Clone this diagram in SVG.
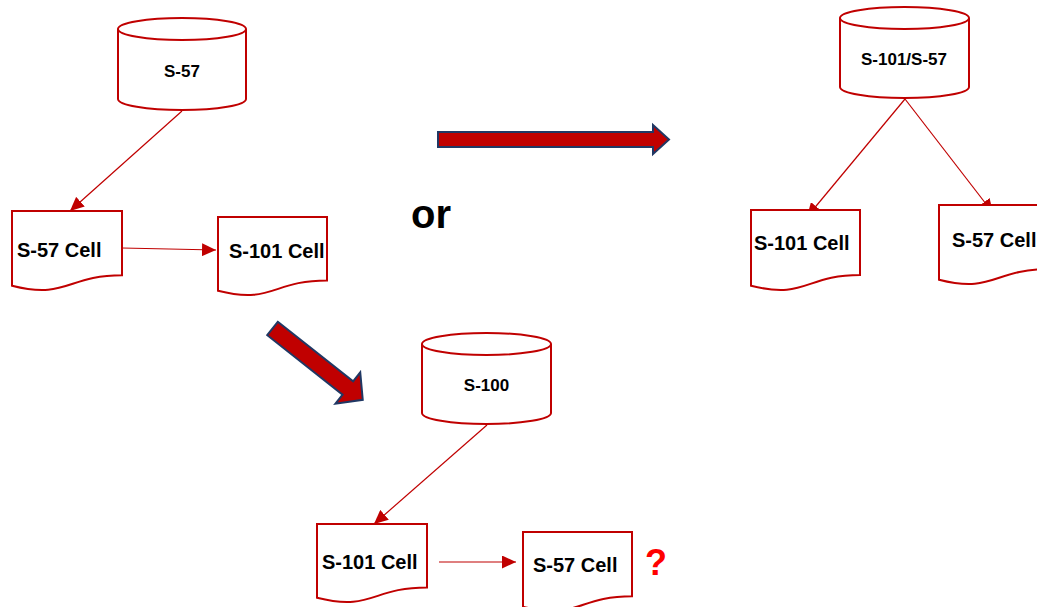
<svg xmlns="http://www.w3.org/2000/svg" width="1037" height="607" viewBox="0 0 1037 607">
<defs>
<style>
.shape{fill:#fff;stroke:#C00000;stroke-width:2}
.conn{fill:none;stroke:#C00000;stroke-width:1.2}
.big{fill:#C00000;stroke:#203864;stroke-width:2;stroke-linejoin:miter}
.lbl{font-family:"Liberation Sans",Arial,sans-serif;font-weight:bold;fill:#000}
.cyl{font-size:17px;text-anchor:middle}
.cell{font-size:20px}
</style>
<marker id="ah" markerUnits="userSpaceOnUse" markerWidth="14" markerHeight="13" refX="14" refY="6.5" orient="auto">
<path d="M0,0 L14,6.5 L0,13 Z" fill="#C00000"/>
</marker>
</defs>
<rect width="1037" height="607" fill="#fff"/>

<g id="connectors">
<line class="conn" x1="182" y1="111" x2="70" y2="211" marker-end="url(#ah)"/>
<line class="conn" x1="122" y1="248" x2="216" y2="250" marker-end="url(#ah)"/>
<line class="conn" x1="905" y1="99" x2="807" y2="217" marker-end="url(#ah)"/>
<line class="conn" x1="905" y1="99" x2="993" y2="213" marker-end="url(#ah)"/>
<line class="conn" x1="487" y1="425" x2="374" y2="524" marker-end="url(#ah)"/>
<line class="conn" x1="439" y1="562" x2="516" y2="562" marker-end="url(#ah)"/>
</g>

<g id="big-arrow-right">
<path class="big" d="M438,132 H653 V125 L669,139.5 L653,154 V147 H438 Z"/>
</g>
<g id="big-arrow-diagonal">
<path class="big" transform="translate(272.5,328.5) rotate(38.3)" d="M0,-8.5 H96 V-20 L115,0 L96,20 V8.5 H0 Z"/>
</g>

<g id="cyl-s57">
<path class="shape" d="M118,29 A64,11 0 0 1 246,29 V99 A64,11 0 0 1 118,99 Z"/>
<path class="shape" fill="none" d="M118,29 A64,11 0 0 0 246,29"/>
<text class="lbl cyl" x="182" y="77">S-57</text>
</g>

<g id="doc-s57-cell">
<path class="shape" d="M12,211 H122 V275.2 C67,275.2 67,299.6 12,285.7 Z"/>
<text class="lbl cell" x="17" y="257">S-57 Cell</text>
</g>

<g id="doc-s101-cell">
<path class="shape" d="M218,217 H327 V280.4 C272.5,280.4 272.5,304.5 218,290.8 Z"/>
<text class="lbl cell" x="229" y="258">S-101 Cell</text>
</g>

<g id="or-label">
<text class="lbl" x="411" y="228" font-size="40">or</text>
</g>

<g id="cyl-s101-s57">
<path class="shape" d="M840,18 A64.5,11 0 0 1 969,18 V87 A64.5,11 0 0 1 840,87 Z"/>
<path class="shape" fill="none" d="M840,18 A64.5,11 0 0 0 969,18"/>
<text class="lbl cyl" x="904" y="65">S-101/S-57</text>
</g>

<g id="doc-right-s101">
<path class="shape" d="M751,210 H860 V275 C805.5,275 805.5,299.7 751,285.7 Z"/>
<text class="lbl cell" x="754" y="250">S-101 Cell</text>
</g>

<g id="doc-right-s57">
<path class="shape" d="M939,205 H1048 V269.2 C993.5,269.2 993.5,293.6 939,279.7 Z"/>
<text class="lbl cell" x="952" y="247">S-57 Cell</text>
</g>

<g id="cyl-s100">
<path class="shape" d="M422,344 A64.5,11 0 0 1 551,344 V413 A64.5,11 0 0 1 422,413 Z"/>
<path class="shape" fill="none" d="M422,344 A64.5,11 0 0 0 551,344"/>
<text class="lbl cyl" x="486.5" y="391">S-100</text>
</g>

<g id="doc-bottom-s101">
<path class="shape" d="M317,524 H427 V587.4 C372,587.4 372,611.5 317,597.8 Z"/>
<text class="lbl cell" x="322" y="569">S-101 Cell</text>
</g>

<g id="doc-bottom-s57">
<path class="shape" d="M523,532 H632 V596.2 C577.5,596.2 577.5,620.6 523,606.7 Z"/>
<text class="lbl cell" x="533" y="572">S-57 Cell</text>
</g>

<g id="question">
<text class="lbl" x="645" y="575" font-size="36" fill="#FF0000" style="fill:#FF0000">?</text>
</g>
</svg>
